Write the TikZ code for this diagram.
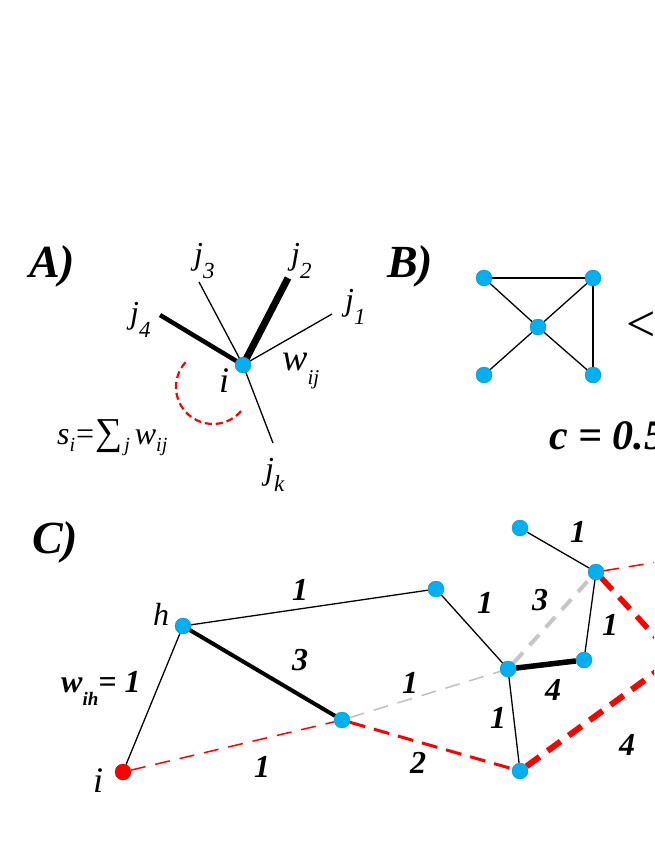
\documentclass[tikz,border=0pt]{standalone}
\usepackage{fontspec}
\setmainfont{Liberation Serif}
\usetikzlibrary{backgrounds}
\definecolor{ncyan}{RGB}{0,176,240}
\newcommand{\fs}[1]{\fontsize{#1}{#1}\selectfont}
\newcommand{\lowr}[3]{\raisebox{-#1pt}{\fs{#2}#3}}
\begin{document}
\begin{tikzpicture}[x=1pt,y=-1pt,
  cnode/.style={circle, fill=ncyan, draw=ncyan!75!black, line width=0.3pt, minimum size=16pt, inner sep=0pt},
  rnode/.style={circle, fill=red, draw=red!75!black, line width=0.3pt, minimum size=16pt, inner sep=0pt},
  thinedge/.style={line width=1.3pt},
  txt/.style={anchor=base west, inner sep=0pt},
  jl/.style={txt, font=\fs{32}\itshape},
  num/.style={inner sep=0pt, font=\fs{32}\bfseries\itshape},
  panel/.style={txt, font=\fs{46}\bfseries\itshape},
  reddash1/.style={red, line width=1.5pt, dash pattern=on 15pt off 10pt},
  reddash2/.style={red, line width=3pt, dash pattern=on 16pt off 9pt},
  reddash4/.style={red, line width=6pt, dash pattern=on 16pt off 10pt},
  graydash1/.style={gray!50, line width=1.5pt, dash pattern=on 15pt off 10pt},
  graydash3/.style={gray!45, line width=4pt, dash pattern=on 14pt off 10pt}]
\useasboundingbox (0,0) rectangle (654,846);
\clip (0,0) rectangle (654,846);

% ---------- Panel A ----------
\node[panel] (lA) at (29,277) {A)};
\node[cnode] (Ai) at (243,365) {};
\coordinate (Aj1) at (332,314);
\coordinate (Aj2) at (288,278);
\coordinate (Aj3) at (199,282);
\coordinate (Aj4) at (160,315);
\coordinate (Ajk) at (273,443);
\node[jl] (tj3) at (194,264) {j\lowr{14}{23}{3}};
\node[jl] (tj2) at (291,264) {j\lowr{14}{23}{2}};
\node[jl] (tj1) at (345,310) {j\lowr{14}{23}{1}};
\node[jl] (tj4) at (130,323) {j\lowr{14}{23}{4}};
\node[jl] (tjk) at (265,479) {j\lowr{12}{23}{k}};
\node[txt, font=\fs{36}\itshape] (tAi) at (219,392) {i};
\node[txt, font=\fs{38}\itshape] (tw) at (282,370) {w\lowr{14}{21}{ij}};
\node[txt, font=\fs{32}\itshape] (ts) at (57,444) {s\lowr{7}{20}{i}\kern1pt{\upshape=}\kern1pt{\upshape\fs{38}∑}\kern2pt\lowr{7}{20}{j}\kern5pt w\lowr{7}{20}{ij}};
\draw[red, line width=2.2pt, dash pattern=on 7pt off 4pt] ([shift={(222:37)}]213,387) arc[start angle=222, end angle=37, radius=37];

% ---------- Panel B ----------
\node[panel] (lB) at (387,277) {B)};
\node[cnode] (Btl) at (484,278) {};
\node[cnode] (Btr) at (593,278) {};
\node[cnode] (Bc) at (538,327) {};
\node[cnode] (Bbl) at (484,375) {};
\node[cnode] (Bbr) at (593,375) {};
\node[anchor=west, inner sep=0pt, font=\fs{52}] (lt) at (626,327) {<};
\node[txt, font=\fs{42}\bfseries\itshape] (tc) at (549,449) {c = 0.5};

% ---------- Panel C ----------
\node[panel] (lC) at (32,553) {C)};
\node[rnode] (Ci) at (123,772) {};
\node[cnode] (Ch) at (183,626) {};
\node[cnode] (Cm) at (342,720) {};
\node[cnode] (Cn) at (436,589) {};
\node[cnode] (Cc) at (508,669) {};
\node[cnode] (Cr) at (584,660) {};
\node[cnode] (Ctr) at (596,572) {};
\node[cnode] (Ctt) at (520,528) {};
\node[cnode] (Cb) at (520,771) {};
\coordinate (Cx1) at (675,658);
\coordinate (Cx2) at (720,552);

\node[txt, font=\fs{32}\itshape] (th) at (153,625) {h};
\node[txt, font=\fs{36}\itshape] (tCi) at (93,792) {i};
\node[txt, font=\fs{32}\bfseries\itshape] (twih) at (61,692) {w\lowr{13}{19}{ih}= 1};

\node[num] (n1) at (300,590) {1};
\node[num] (n2) at (300,660) {3};
\node[num] (n3) at (262,767) {1};
\node[num] (n4) at (578,532) {1};
\node[num] (n5) at (485,603) {1};
\node[num] (n6) at (540,600) {3};
\node[num] (n7) at (610,625) {1};
\node[num] (n8) at (410,683) {1};
\node[num] (n9) at (553,690) {4};
\node[num] (n10) at (498,718) {1};
\node[num] (n11) at (418,763) {2};
\node[num] (n12) at (627,745) {4};

\begin{scope}[on background layer]
\clip (0,0) rectangle (654,846);
% panel A edges
\draw[thinedge] (Ai.center) -- (Aj1);
\draw[line width=7pt] (Ai.center) -- (Aj2);
\draw[thinedge] (Ai.center) -- (Aj3);
\draw[line width=4.5pt] (Ai.center) -- (Aj4);
\draw[thinedge] (Ai.center) -- (Ajk);
% panel B edges
\draw[thinedge] (Btl) -- (Btr);
\draw[thinedge] (Btl) -- (Bc);
\draw[thinedge] (Btr) -- (Bc);
\draw[thinedge] (Btr) -- (Bbr);
\draw[thinedge] (Bc) -- (Bbl);
\draw[thinedge] (Bc) -- (Bbr);
% panel C edges
\draw[thinedge] (Ci) -- (Ch);
\draw[thinedge] (Ch) -- (Cn);
\draw[line width=4pt] (Ch.center) -- (Cm);
\draw[thinedge] (Cn) -- (Cc);
\draw[line width=5.5pt] (Cc) -- (Cr);
\draw[thinedge] (Cr) -- (Ctr);
\draw[thinedge] (Ctt) -- (Ctr);
\draw[thinedge] (Cc) -- (Cb);
\draw[graydash1] (Cm) -- (Cc);
\draw[graydash3] (Cc) -- (Ctr);
\draw[reddash1] (Ci) -- (Cm);
\draw[reddash2] (Cm) -- (Cb);
\draw[reddash4] (Cb) -- (Cx1);
\draw[reddash1] (Ctr) -- (Cx2);
\draw[red, line width=5.5pt, dash pattern=on 16pt off 10pt] (Ctr) -- (Cx1);
\end{scope}
\end{tikzpicture}
\end{document}
